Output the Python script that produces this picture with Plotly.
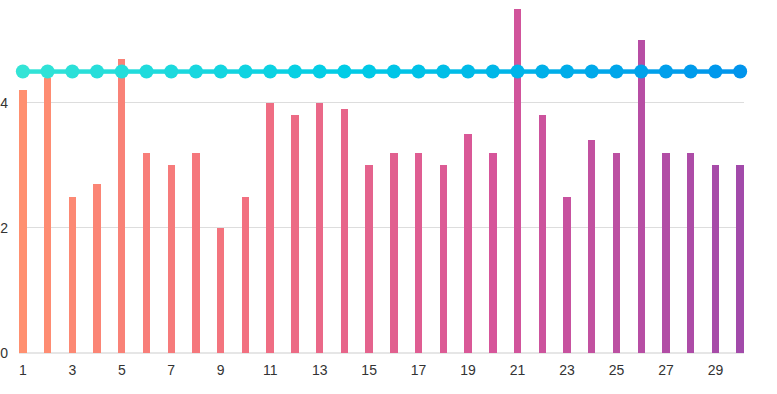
import plotly.graph_objects as go

days = list(range(1, 31))
bar_values = [4.2, 4.4, 2.5, 2.7, 4.7, 3.2, 3.0, 3.2, 2.0, 2.5,
              4.0, 3.8, 4.0, 3.9, 3.0, 3.2, 3.2, 3.0, 3.5, 3.2,
              5.5, 3.8, 2.5, 3.4, 3.2, 5.0, 3.2, 3.2, 3.0, 3.0]
line_values = [4.5] * 30
x_tick_labels = [str(d) for d in range(1, 31, 2)]
y_tick_values = [0, 2, 4]


def hex2rgb(h):
    h = h.lstrip('#')
    return tuple(int(h[i:i + 2], 16) for i in (0, 2, 4))


def interp(stops, t):
    for i in range(len(stops) - 1):
        t0, c0 = stops[i]
        t1, c1 = stops[i + 1]
        if t0 <= t <= t1:
            f = (t - t0) / (t1 - t0) if t1 > t0 else 0
            a, b = hex2rgb(c0), hex2rgb(c1)
            return 'rgb(%d,%d,%d)' % tuple(round(a[k] + (b[k] - a[k]) * f) for k in range(3))
    return stops[-1][1]


bar_stops = [(0.0, '#FF9070'), (0.31, '#F27080'), (0.66, '#D6559A'), (1.0, '#A24AAA')]
line_stops = [(0.0, '#33E4D6'), (0.45, '#00CCE6'), (1.0, '#0094EC')]

n = len(days)
bar_colors = [interp(bar_stops, i / (n - 1)) for i in range(n)]
dot_colors = [interp(line_stops, i / (n - 1)) for i in range(n)]

fig = go.Figure()
fig.add_trace(go.Bar(
    x=days, y=bar_values, width=0.3,
    marker=dict(color=bar_colors, line=dict(width=0)),
    showlegend=False, cliponaxis=False,
))

for i in range(n - 1):
    fig.add_trace(go.Scatter(
        x=days[i:i + 2], y=line_values[i:i + 2], mode='lines',
        line=dict(color=interp(line_stops, (i + 0.5) / (n - 1)), width=4.5),
        showlegend=False, cliponaxis=False, hoverinfo='skip',
    ))

fig.add_trace(go.Scatter(
    x=days, y=line_values, mode='markers',
    marker=dict(color=dot_colors, size=14, line=dict(width=0)),
    showlegend=False, cliponaxis=False,
))

fig.update_layout(
    width=777, height=394,
    margin=dict(l=19, r=33, t=9, b=41),
    paper_bgcolor='white', plot_bgcolor='white',
    font=dict(family='Liberation Sans, Arial, sans-serif', size=14, color='#333333'),
    bargap=0,
    xaxis=dict(
        range=[1 - 0.155, 30 + 0.155], automargin=False,
        tickmode='array', tickvals=list(range(1, 31, 2)), ticktext=x_tick_labels,
        showgrid=False, zeroline=False, showline=False, ticks='',
        ticklabelstandoff=7,
        tickfont=dict(size=14, color='#333333'),
    ),
    yaxis=dict(
        range=[0, 5.5], automargin=False,
        tickmode='array', tickvals=y_tick_values,
        ticktext=[str(v) for v in y_tick_values],
        showgrid=True, gridcolor='#dddddd', gridwidth=1,
        zeroline=True, zerolinecolor='#e6e6e6', zerolinewidth=2,
        showline=False, ticks='', ticklabelstandoff=10,
        tickfont=dict(size=14, color='#333333'),
    ),
)

fig.write_html('out.html', config={'displayModeBar': False},
               post_script="document.body.style.margin='0';")
